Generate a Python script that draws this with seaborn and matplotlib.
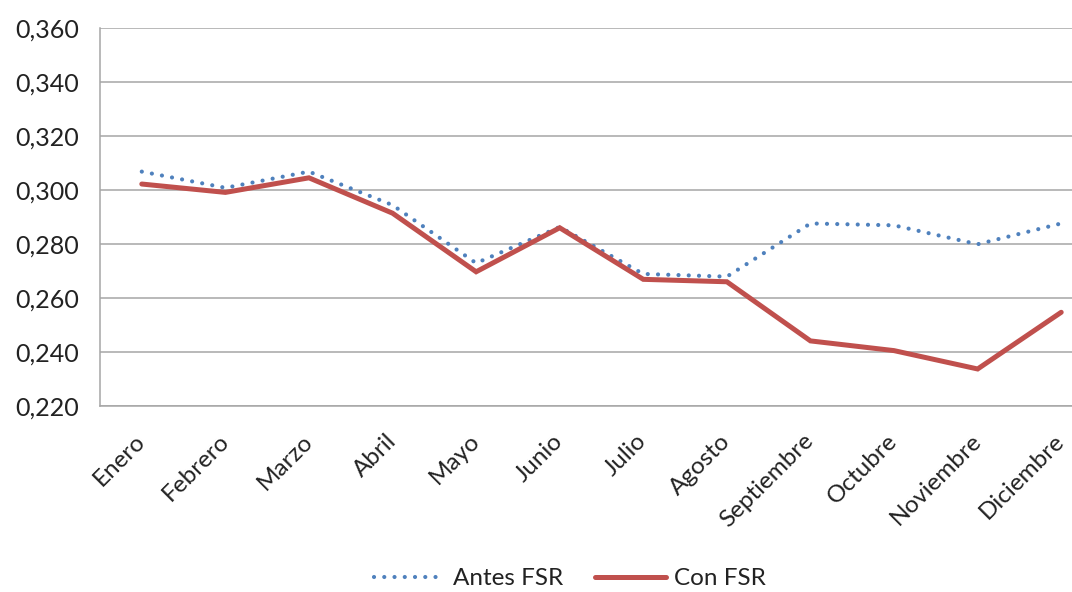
import matplotlib
matplotlib.use('Agg')
import matplotlib.pyplot as plt
import matplotlib.ticker as mticker
import seaborn as sns
import pandas as pd

# Monthly values
meses = ['Enero', 'Febrero', 'Marzo', 'Abril', 'Mayo', 'Junio', 'Julio',
         'Agosto', 'Septiembre', 'Octubre', 'Noviembre', 'Diciembre']
antes_fsr = [0.3067, 0.3007, 0.3067, 0.2943, 0.2728, 0.2862, 0.2688,
             0.2678, 0.2875, 0.2868, 0.2798, 0.2875]
con_fsr = [0.3021, 0.2990, 0.3044, 0.2913, 0.2696, 0.2859, 0.2668,
           0.2659, 0.2440, 0.2404, 0.2336, 0.2546]

df = pd.DataFrame({'Mes': meses, 'Antes FSR': antes_fsr, 'Con FSR': con_fsr})

sns.set_style('white')
plt.rcParams['font.family'] = ['Lato', 'DejaVu Sans']
plt.rcParams['text.color'] = '#222222'

fig = plt.figure(figsize=(10.72, 5.92), dpi=100)
# plot area is cropped at the right edge in the reference
ax = fig.add_axes([100 / 1072, 1 - 405.7 / 592, 1003 / 1072, 378 / 592])

sns.lineplot(data=df, x='Mes', y='Antes FSR', ax=ax, color='#4F81BD',
             linewidth=3.0, linestyle=(0, (0.01, 2.45)), label='Antes FSR',
             dash_capstyle='round', sort=False)
sns.lineplot(data=df, x='Mes', y='Con FSR', ax=ax, color='#C0504D',
             linewidth=3.6, label='Con FSR', sort=False)
for ln in ax.lines:
    ln.set_solid_joinstyle('miter')

ax.set_xlim(-0.5, 11.5)
ax.set_ylim(0.22, 0.36)
ax.yaxis.set_major_locator(mticker.MultipleLocator(0.02))
ax.yaxis.set_major_formatter(
    mticker.FuncFormatter(lambda v, p: f'{v:.3f}'.replace('.', ',')))
ax.grid(axis='y', color='#A6A6A6', linewidth=1.1)
ax.set_axisbelow(True)

ax.set_xticks(range(len(meses)))
ax.set_xticklabels(meses, rotation=45, ha='right', va='center',
                   rotation_mode='anchor', fontsize=17.5, color='#222222')
ax.set_xticks([i - 0.5 for i in range(len(meses) + 1)], minor=True)
ax.tick_params(axis='x', which='major', length=0, pad=23)
ax.tick_params(axis='x', which='minor', length=7, color='#A6A6A6', width=1.1)
ax.tick_params(axis='y', length=7, color='#A6A6A6', width=1.1, labelsize=18,
               pad=8, labelcolor='#222222')
ax.set_xlabel('')
ax.set_ylabel('')

for s in ['top', 'right']:
    ax.spines[s].set_visible(False)
for s in ['left', 'bottom']:
    ax.spines[s].set_color('#A6A6A6')
    ax.spines[s].set_linewidth(1.1)

ax.legend_.remove()
h, l = ax.get_legend_handles_labels()
fig.legend(h, l, loc='center', bbox_to_anchor=(0.532, 0.022), ncol=2,
           frameon=False, fontsize=17.5, handlelength=2.9, columnspacing=1.3,
           handletextpad=0.35)

fig.savefig('out.png', dpi=100)
